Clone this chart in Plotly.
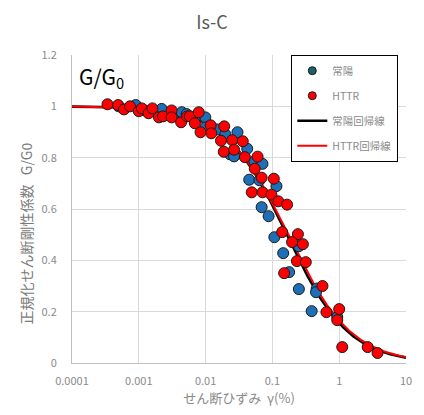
import numpy as np
import plotly.graph_objects as go

# Measured shear modulus reduction data: shear strain (%) vs G/G0
joyo_strain = [0.0005, 0.0009, 0.0012, 0.0022, 0.0035, 0.0044, 0.0052, 0.007,
               0.0099, 0.010, 0.015, 0.0197, 0.030, 0.0233, 0.042, 0.0267,
               0.054, 0.071, 0.045, 0.064, 0.115, 0.069, 0.0877, 0.107,
               0.249, 0.145, 0.178, 0.249, 0.46, 0.45, 0.387, 0.935]
joyo_ratio = [1.0, 1.005, 0.985, 0.99, 0.965, 0.977, 0.97, 0.945,
              0.957, 0.918, 0.91, 0.891, 0.899, 0.813, 0.835, 0.805,
              0.786, 0.776, 0.714, 0.712, 0.689, 0.607, 0.572, 0.49,
              0.455, 0.428, 0.354, 0.288, 0.29, 0.276, 0.202, 0.179]

httr_strain = [0.00034, 0.00049, 0.0006, 0.00074, 0.001, 0.00111, 0.0014, 0.0016,
               0.002, 0.0023, 0.0031, 0.0031, 0.0043, 0.0053, 0.0058, 0.0069,
               0.0079, 0.0084, 0.0119, 0.0122, 0.019, 0.017, 0.025, 0.036,
               0.0187, 0.0267, 0.0387, 0.06, 0.0544, 0.069, 0.105, 0.049,
               0.0713, 0.0967, 0.1225, 0.166, 0.14, 0.241, 0.197, 0.286,
               0.233, 0.316, 0.15, 0.562, 0.644, 1.0, 0.935, 1.11,
               2.67, 3.75]
httr_ratio = [1.008, 1.005, 0.988, 1.0, 0.981, 0.992, 0.973, 0.992,
              0.957, 0.961, 0.984, 0.957, 0.938, 0.961, 0.961, 0.934,
              0.977, 0.899, 0.926, 0.895, 0.922, 0.866, 0.868, 0.864,
              0.823, 0.831, 0.802, 0.804, 0.757, 0.722, 0.718, 0.665,
              0.665, 0.656, 0.63, 0.617, 0.51, 0.502, 0.471, 0.463,
              0.397, 0.393, 0.35, 0.3, 0.198, 0.21, 0.167, 0.062,
              0.062, 0.039]

# Hardin-Drnevich type regression: G/G0 = 1 / (1 + (gamma/gamma_r)^alpha)
joyo_gamma_r, joyo_alpha = 0.165, 0.94
httr_gamma_r, httr_alpha = 0.172, 0.92

strain_ticks = [0.0001, 0.001, 0.01, 0.1, 1, 10]
strain_tick_labels = ["0.0001", "0.001", "0.01", "0.1", "1", "10"]
ratio_ticks = [0, 0.2, 0.4, 0.6, 0.8, 1.0, 1.2]
ratio_tick_labels = ["0", "0.2", "0.4", "0.6", "0.8", "1", "1.2"]


def hd_curve(gamma, gamma_r, alpha):
    return 1.0 / (1.0 + (gamma / gamma_r) ** alpha)


gamma_line = np.logspace(-4, 1, 300)

FONT = "Noto Sans CJK JP"
GRAY = "#6f6f6f"
BLUE = "#1f6fb8"
RED = "#ff0000"
EDGE = "#1a1a1a"

fig = go.Figure()

# regression curves (drawn beneath the markers)
fig.add_trace(go.Scatter(
    x=gamma_line, y=hd_curve(gamma_line, joyo_gamma_r, joyo_alpha),
    mode="lines", name="常陽回帰線", legendrank=3, legendgroup="c",
    line=dict(color="#000000", width=2.6)))
fig.add_trace(go.Scatter(
    x=gamma_line, y=hd_curve(gamma_line, httr_gamma_r, httr_alpha),
    mode="lines", name="HTTR回帰線", legendrank=4, legendgroup="d",
    line=dict(color=RED, width=2)))

# measured points
fig.add_trace(go.Scatter(
    x=joyo_strain, y=joyo_ratio, mode="markers", name="常陽", showlegend=False,
    marker=dict(size=11, color=BLUE, line=dict(color=EDGE, width=1))))
fig.add_trace(go.Scatter(
    x=httr_strain, y=httr_ratio, mode="markers", name="HTTR", showlegend=False,
    marker=dict(size=11, color=RED, line=dict(color=EDGE, width=1))))

# legend entries with smaller symbols
fig.add_trace(go.Scatter(
    x=[None], y=[None], mode="markers", name="常陽",
    legendrank=1, legendgroup="a",
    marker=dict(size=8, color="#1d5f6a", line=dict(color=EDGE, width=1))))
fig.add_trace(go.Scatter(
    x=[None], y=[None], mode="markers", name="HTTR",
    legendrank=2, legendgroup="b",
    marker=dict(size=8, color=RED, line=dict(color=EDGE, width=1))))

fig.update_layout(
    width=424, height=415,
    margin=dict(l=72, r=12, t=55, b=51),
    paper_bgcolor="white", plot_bgcolor="white",
    font=dict(family=FONT, color=GRAY, size=11),
    title=dict(text="Is-C", x=0.5, xanchor="center", y=0.945, yanchor="middle",
               font=dict(family=FONT, size=18, color="#595959")),
    legend=dict(x=0.656, xanchor="left", y=1.0, yanchor="top",
                bgcolor="white", bordercolor="#000000", borderwidth=1.2,
                font=dict(family=FONT, size=10.5, color="#8a8a8a"),
                tracegroupgap=6, itemwidth=30),
    showlegend=True,
)

fig.update_xaxes(
    type="log", range=[-4, 1],
    tickvals=strain_ticks, ticktext=strain_tick_labels,
    showgrid=True, gridcolor="#d9d9d9", gridwidth=1,
    showline=True, linecolor="#bfbfbf", linewidth=1,
    ticks="", ticklabelstandoff=8, zeroline=False,
    tickfont=dict(size=11, color="#8a8a8a"),
    title=dict(text="せん断ひずみ  γ(%)", standoff=6,
               font=dict(family=FONT, size=13, color="#8a8a8a")))

fig.update_yaxes(
    range=[0, 1.2], tickvals=ratio_ticks, ticktext=ratio_tick_labels,
    showgrid=True, gridcolor="#d9d9d9", gridwidth=1,
    showline=True, linecolor="#bfbfbf", linewidth=1,
    ticks="", ticklabelstandoff=12, zeroline=False,
    tickfont=dict(size=11, color="#8a8a8a"))

# Y-axis caption
fig.add_annotation(
    text="正規化せん断剛性係数   G/G0", xref="paper", yref="paper",
    x=-0.138, y=0.42, textangle=-90, showarrow=False,
    xanchor="center", yanchor="middle",
    font=dict(family=FONT, size=14, color="#7a7a7a"))

# G/G0 label inside the plot
fig.add_annotation(
    text="G/G<sub>0</sub>", xref="paper", yref="paper",
    x=0.015, y=0.93, xanchor="left", yanchor="middle", showarrow=False,
    font=dict(family=FONT, size=21, color="#000000"))

fig.write_html("out.html")
